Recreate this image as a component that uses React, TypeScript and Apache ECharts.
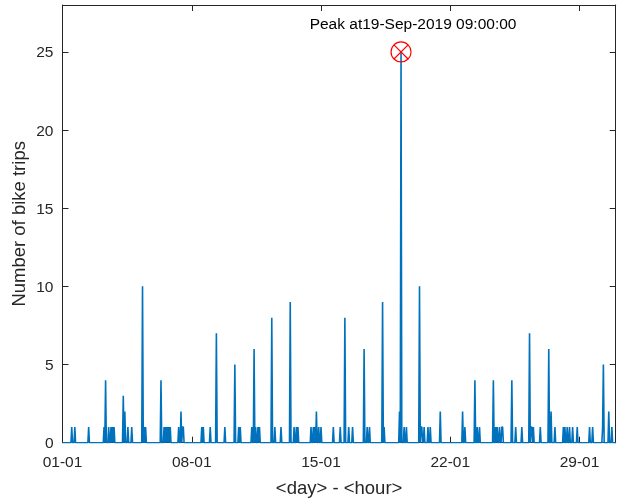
import React, { useEffect, useRef } from "react";
import * as echarts from "echarts";

// Hourly bike trips, September 2019 (hour index 0 = day 01, hour 01)
const hoursInMonth = 720;
const spikeHours = [
  12, 16, 34, 54, 56, 60, 63, 65, 67, 79, 81, 85, 90,
  104, 106, 108, 128, 132, 134, 136, 138, 140, 151, 154, 156, 157,
  181, 183, 192, 200, 211, 224, 229, 231, 246, 249, 251, 254, 256,
  272, 276, 284, 296, 301, 304, 306,
  323, 326, 328, 330, 333, 336, 352, 361, 367, 372, 377, 392, 396, 399,
  416, 418, 438, 440, 444, 447, 464, 466, 467, 470, 475, 478, 491,
  520, 523, 536, 539, 542, 560, 563, 565, 568, 571, 572, 584, 589, 597, 607, 609, 610, 612, 621,
  632, 635, 640, 651, 653, 656, 659, 663, 669, 685, 689, 702, 703, 710, 714,
];
const spikeCounts = [
  1, 1, 1, 1, 4, 1, 1, 1, 1, 3, 2, 1, 1,
  10, 1, 1, 4, 1, 1, 1, 1, 1, 1, 2, 1, 1,
  1, 1, 1, 7, 1, 5, 1, 1, 1, 6, 1, 1, 1,
  8, 1, 1, 9, 1, 1, 1,
  1, 1, 1, 2, 1, 1, 1, 1, 8, 1, 1, 6, 1, 1,
  9, 1, 2, 25, 1, 1, 10, 1, 1, 1, 1, 1, 2,
  2, 1, 4, 1, 1, 4, 1, 1, 1, 1, 1, 4, 1, 1, 7, 1, 1, 1, 1,
  6, 2, 1, 1, 1, 1, 1, 1, 1, 1, 1, 1, 5, 2, 1,
];
const xTickLabels = ["01-01", "08-01", "15-01", "22-01", "29-01"];
const xTickStep = 168;
const yMax = 28;
const yStep = 5;
const peakLabel = "Peak at19-Sep-2019 09:00:00";
const xName = "<day> - <hour>";
const yName = "Number of bike trips";

const FONT = "'Liberation Sans', Arial, Helvetica, sans-serif";
const AX = "#262626";
const LINE = "#0072BD";

export default function App() {
  const ref = useRef<HTMLDivElement>(null);
  useEffect(() => {
    if (!ref.current) return;
    const chart = echarts.init(ref.current, null, { renderer: "svg" });
    const counts: number[] = new Array(hoursInMonth).fill(0);
    spikeHours.forEach((h, k) => {
      counts[h] = spikeCounts[k];
    });
    const data = counts.map((v, i) => [i, v]);
    let peakIdx = 0;
    counts.forEach((v, i) => {
      if (v > counts[peakIdx]) peakIdx = i;
    });

    const axisLine = { show: true, onZero: false, lineStyle: { color: AX, width: 1 } };
    const tick = { show: true, inside: true, length: 6, lineStyle: { color: AX, width: 1 } };

    chart.setOption({
      animation: false,
      textStyle: { fontFamily: FONT },
      grid: { left: 62.5, right: 1.3, top: 5, bottom: 55.3, outerBoundsMode: "none" },
      xAxis: [
        {
          type: "value",
          min: 0,
          max: hoursInMonth - 1,
          interval: xTickStep,
          position: "bottom",
          axisLine,
          axisTick: tick,
          splitLine: { show: false },
          axisLabel: {
            formatter: (v: number) => (v % xTickStep === 0 ? xTickLabels[v / xTickStep] ?? "" : ""),
            fontSize: 15.5,
            color: AX,
            margin: 11,
            showMaxLabel: false,
            fontFamily: FONT,
          },
          name: xName,
          nameLocation: "middle",
          nameGap: 35,
          nameMoveOverlap: false,
          nameTextStyle: { fontSize: 18.5, color: AX, fontFamily: FONT },
        },
        {
          type: "value",
          min: 0,
          max: hoursInMonth - 1,
          interval: xTickStep,
          position: "top",
          axisLine,
          axisTick: tick,
          splitLine: { show: false },
          axisLabel: { show: false },
        },
      ],
      yAxis: [
        {
          type: "value",
          min: 0,
          max: yMax,
          interval: yStep,
          position: "left",
          axisLine,
          axisTick: tick,
          splitLine: { show: false },
          axisLabel: { fontSize: 15.5, color: AX, margin: 9, showMaxLabel: false, fontFamily: FONT },
          name: yName,
          nameLocation: "middle",
          nameGap: 35,
          nameMoveOverlap: false,
          nameTextStyle: { fontSize: 18.5, color: AX, fontFamily: FONT },
        },
        {
          type: "value",
          min: 0,
          max: yMax,
          interval: yStep,
          position: "right",
          axisLine,
          axisTick: tick,
          splitLine: { show: false },
          axisLabel: { show: false },
        },
      ],
      series: [
        {
          type: "line",
          xAxisIndex: 0,
          yAxisIndex: 0,
          data,
          showSymbol: false,
          lineStyle: { color: LINE, width: 1.6 },
          itemStyle: { color: LINE },
          markPoint: {
            data: [{ coord: [peakIdx, counts[peakIdx]] }],
            symbol:
              "path://M0,10 A10,10 0 1,1 20,10 A10,10 0 1,1 0,10 Z M2.93,2.93 L17.07,17.07 M17.07,2.93 L2.93,17.07",
            symbolSize: 20,
            itemStyle: { color: "transparent", borderColor: "#FF0000", borderWidth: 1.2 },
            label: {
              show: true,
              formatter: peakLabel,
              position: "top",
              offset: [12, -5],
              color: "#000",
              fontSize: 15.5,
              fontFamily: FONT,
            },
          },
        },
      ],
    });
    return () => chart.dispose();
  }, []);
  return <div ref={ref} style={{ position: "fixed", left: 0, top: 0, width: 617, height: 498 }} />;
}
